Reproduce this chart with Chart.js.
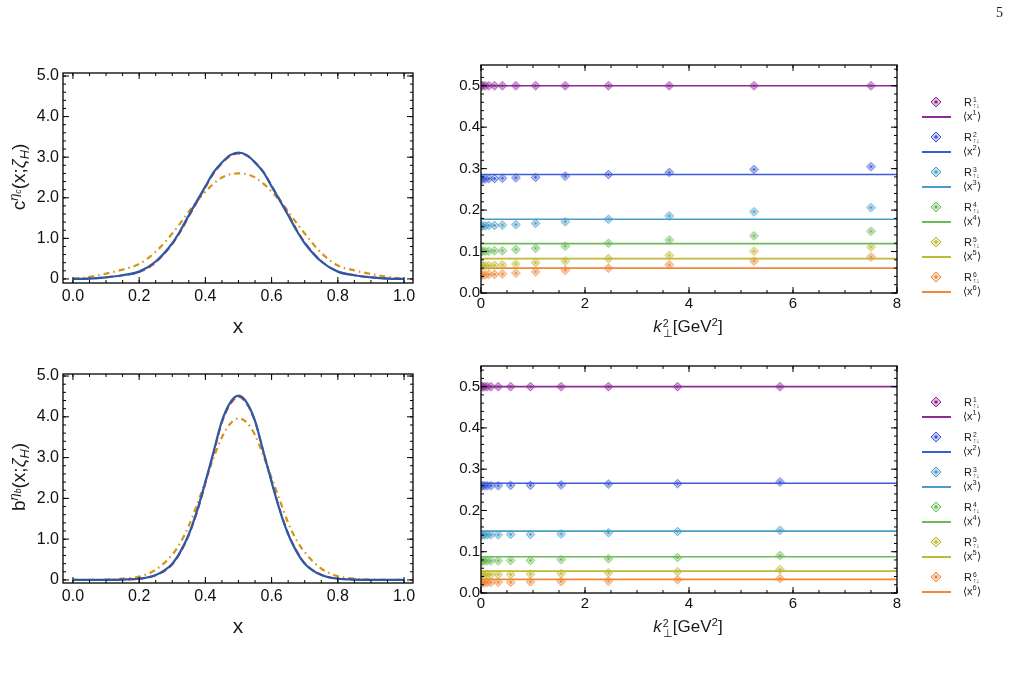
<!DOCTYPE html>
<html>
<head>
<meta charset="utf-8">
<script src="https://cdn.jsdelivr.net/npm/chart.js@4.4.1/dist/chart.umd.min.js"></script>
<style>
  body { margin: 0; background: #fff; }
  #page { position: relative; width: 1013px; height: 676px; overflow: hidden; font-family: "Liberation Sans", Arial, sans-serif; color: #1a1a1a; }
  #page canvas.plot { position: absolute; left: 0; top: 0; }
  .t { position: absolute; white-space: nowrap; line-height: 1; }
  .ytitle { font-size: 19px; transform: translate(-50%, -50%) rotate(-90deg); }
  .xtitle { font-size: 21px; transform: translate(-50%, -50%); }
  .ktitle { font-size: 17px; transform: translate(-50%, -50%); }
  sup, sub { font-size: 0.68em; line-height: 0; }
  .stack { display: inline-flex; flex-direction: column; vertical-align: middle; font-size: 0.62em; line-height: 0.95; margin-left: 1px; }
  .leg { position: absolute; font-size: 11px; line-height: 1; white-space: nowrap; }
  .legline { position: absolute; height: 1.6px; width: 29px; }
  .legicon { position: absolute; }
  .pg { position: absolute; left: 996px; top: 5px; font: 14px "Liberation Serif", serif; }
</style>
</head>
<body>
<div id="page">
  <canvas class="plot" id="cTop" width="1013" height="676"></canvas>
  <canvas class="plot" id="bBot" width="1013" height="676"></canvas>
  <canvas class="plot" id="rTop" width="1013" height="676"></canvas>
  <canvas class="plot" id="rBot" width="1013" height="676"></canvas>

  <div class="pg">5</div>

  <div class="t ytitle" style="left:18px;top:177px">c<sup><i>η</i><sub><i>c</i></sub></sup>(x;<i>ζ</i><sub><i>H</i></sub>)</div>
  <div class="t ytitle" style="left:18px;top:477px">b<sup><i>η</i><sub><i>b</i></sub></sup>(x;<i>ζ</i><sub><i>H</i></sub>)</div>
  <div class="t xtitle" style="left:238px;top:325px">x</div>
  <div class="t xtitle" style="left:238px;top:625px">x</div>
  <div class="t ktitle" style="left:688px;top:328px"><i>k</i><span class="stack"><span>2</span><span>⊥</span></span>[GeV<sup>2</sup>]</div>
  <div class="t ktitle" style="left:688px;top:628px"><i>k</i><span class="stack"><span>2</span><span>⊥</span></span>[GeV<sup>2</sup>]</div>
</div>

<script>
// ---- left panels: distribution amplitudes ----
const xGrid = [0, 0.05, 0.1, 0.15, 0.2, 0.25, 0.3, 0.325, 0.35, 0.375, 0.4, 0.425, 0.45, 0.475, 0.5,
               0.525, 0.55, 0.575, 0.6, 0.625, 0.65, 0.675, 0.7, 0.75, 0.8, 0.85, 0.9, 0.95, 1];

const cBlue = [0, 0.01, 0.04, 0.09, 0.18, 0.43, 0.88, 1.2, 1.57, 1.93, 2.28, 2.63, 2.87, 3.05, 3.11,
               3.05, 2.87, 2.63, 2.28, 1.93, 1.57, 1.2, 0.88, 0.43, 0.18, 0.09, 0.04, 0.01, 0];
const cRed  = [0, 0.01, 0.04, 0.09, 0.17, 0.41, 0.86, 1.17, 1.54, 1.9, 2.26, 2.6, 2.85, 3.03, 3.09,
               3.04, 2.87, 2.64, 2.3, 1.95, 1.6, 1.22, 0.9, 0.44, 0.18, 0.09, 0.04, 0.01, 0];
const cGold = [0, 0.05, 0.13, 0.23, 0.37, 0.67, 1.12, 1.38, 1.66, 1.92, 2.15, 2.35, 2.5, 2.58, 2.6,
               2.58, 2.5, 2.35, 2.15, 1.92, 1.66, 1.38, 1.12, 0.64, 0.33, 0.21, 0.12, 0.05, 0];

const bBlue = [0, 0, 0, 0.01, 0.03, 0.12, 0.4, 0.7, 1.12, 1.7, 2.4, 3.15, 3.9, 4.35, 4.52,
               4.35, 3.9, 3.15, 2.4, 1.7, 1.12, 0.7, 0.4, 0.12, 0.03, 0.01, 0, 0, 0];
const bRed  = [0, 0, 0, 0.01, 0.03, 0.11, 0.38, 0.68, 1.1, 1.67, 2.37, 3.12, 3.86, 4.31, 4.49,
               4.32, 3.88, 3.15, 2.42, 1.72, 1.14, 0.72, 0.41, 0.13, 0.03, 0.01, 0, 0, 0];
const bGold = [0, 0, 0.01, 0.03, 0.08, 0.25, 0.62, 0.92, 1.33, 1.85, 2.42, 3.0, 3.5, 3.83, 3.96,
               3.86, 3.55, 3.05, 2.5, 1.95, 1.4, 0.98, 0.68, 0.28, 0.09, 0.03, 0.01, 0, 0];

const xTicksLeft = [0, 0.2, 0.4, 0.6, 0.8, 1.0];
const yTicksLeft = [0, 1, 2, 3, 4, 5];

// ---- right panels: moments vs k_perp^2 ----
const kTicks = [0, 2, 4, 6, 8];
const rTicks = [0, 0.1, 0.2, 0.3, 0.4, 0.5];
const kRange = [0, 8];

const kTop = [0.005, 0.03, 0.08, 0.15, 0.26, 0.41, 0.67, 1.05, 1.62, 2.45, 3.62, 5.25, 7.5];
const r1Top = [0.5, 0.5, 0.5, 0.5, 0.5, 0.5, 0.5, 0.5, 0.5, 0.5, 0.5, 0.5, 0.5];
const r2Top = [0.274, 0.275, 0.275, 0.276, 0.276, 0.277, 0.278, 0.279, 0.282, 0.286, 0.291, 0.298, 0.305];
const r3Top = [0.161, 0.162, 0.162, 0.163, 0.163, 0.164, 0.165, 0.168, 0.172, 0.178, 0.186, 0.196, 0.206];
const r4Top = [0.100, 0.101, 0.101, 0.101, 0.102, 0.102, 0.105, 0.108, 0.113, 0.120, 0.128, 0.138, 0.149];
const r5Top = [0.065, 0.066, 0.066, 0.066, 0.067, 0.068, 0.070, 0.073, 0.077, 0.083, 0.091, 0.101, 0.111];
const r6Top = [0.043, 0.044, 0.044, 0.045, 0.045, 0.046, 0.048, 0.051, 0.055, 0.060, 0.068, 0.077, 0.087];
const momTop = [0.5, 0.286, 0.178, 0.119, 0.083, 0.060];

const kBot = [0.005, 0.03, 0.07, 0.12, 0.19, 0.33, 0.57, 0.95, 1.54, 2.45, 3.78, 5.75];
const r1Bot = [0.5, 0.5, 0.5, 0.5, 0.5, 0.5, 0.5, 0.5, 0.5, 0.5, 0.5, 0.5];
const r2Bot = [0.259, 0.260, 0.260, 0.260, 0.260, 0.260, 0.261, 0.261, 0.262, 0.264, 0.265, 0.269];
const r3Bot = [0.140, 0.141, 0.141, 0.141, 0.141, 0.141, 0.142, 0.142, 0.143, 0.146, 0.149, 0.152];
const r4Bot = [0.077, 0.078, 0.078, 0.078, 0.078, 0.078, 0.079, 0.079, 0.081, 0.083, 0.086, 0.091];
const r5Bot = [0.044, 0.044, 0.044, 0.045, 0.045, 0.045, 0.045, 0.046, 0.047, 0.049, 0.052, 0.057];
const r6Bot = [0.025, 0.025, 0.025, 0.026, 0.026, 0.026, 0.026, 0.027, 0.028, 0.029, 0.032, 0.035];
const momBot = [0.5, 0.266, 0.150, 0.088, 0.053, 0.033];

const seriesColors = ['#8e2b97', '#3d5bd6', '#4a9dc6', '#6dba59', '#bfb935', '#ee883a'];

const W = 1013, H = 676;
Chart.defaults.font.family = '"Liberation Sans", Arial, sans-serif';
Chart.defaults.color = '#111';

// frame with inward ticks (Mathematica style)
const framePlugin = {
  id: 'frame',
  afterDatasetsDraw(chart, args, opts) {
    const { ctx, chartArea: a, scales } = chart;
    ctx.save();
    ctx.strokeStyle = '#000';
    ctx.lineWidth = 1;
    const seg = (x1, y1, x2, y2) => { ctx.beginPath(); ctx.moveTo(x1, y1); ctx.lineTo(x2, y2); ctx.stroke(); };
    const mark = (sc, v, len) => {
      const p = sc.getPixelForValue(v);
      if (sc.isHorizontal()) { seg(p, a.bottom, p, a.bottom - len); seg(p, a.top, p, a.top + len); }
      else { seg(a.left, p, a.left + len, p); seg(a.right, p, a.right - len, p); }
    };
    [['x', opts.xMinor], ['y', opts.yMinor]].forEach(([id, step]) => {
      const sc = scales[id];
      sc.ticks.forEach(t => mark(sc, t.value, 6));
      for (let v = Math.ceil(sc.min / step) * step; v <= sc.max; v += step) mark(sc, v, 3);
    });
    ctx.lineWidth = 1.3;
    ctx.strokeRect(a.left, a.top, a.right - a.left, a.bottom - a.top);
    ctx.restore();
  }
};

function panel(id, area, cfg) {
  const yW = 60, xH = 40;
  return new Chart(document.getElementById(id), {
    type: 'scatter',
    data: { datasets: cfg.datasets },
    options: {
      responsive: false,
      animation: false,
      events: [],
      layout: { padding: { left: area.l - yW, top: area.t, right: W - area.r, bottom: H - area.b - xH } },
      plugins: { legend: { display: false }, tooltip: { enabled: false }, frame: cfg.minor },
      scales: {
        x: {
          type: 'linear', min: cfg.x.min, max: cfg.x.max,
          grid: { display: false, drawTicks: false }, border: { display: false },
          afterBuildTicks: s => { s.ticks = cfg.x.ticks.map(v => ({ value: v })); },
          afterFit: s => { s.height = xH; },
          ticks: { padding: cfg.x.pad, font: { size: cfg.fs }, maxRotation: 0, autoSkip: false, callback: cfg.x.fmt }
        },
        y: {
          type: 'linear', min: cfg.y.min, max: cfg.y.max,
          grid: { display: false, drawTicks: false }, border: { display: false },
          afterBuildTicks: s => { s.ticks = cfg.y.ticks.map(v => ({ value: v })); },
          afterFit: s => { s.width = yW; },
          ticks: { padding: cfg.y.pad, font: { size: cfg.fs }, autoSkip: false, callback: cfg.y.fmt }
        }
      }
    },
    plugins: [framePlugin]
  });
}

function curveSets(blue, red, gold) {
  const pts = ys => xGrid.map((x, i) => ({ x, y: ys[i] }));
  const base = { showLine: true, pointRadius: 0, cubicInterpolationMode: 'monotone', fill: false };
  return [
    Object.assign({ data: pts(blue), borderColor: '#2a5ba8', borderWidth: 2.2 }, base),
    Object.assign({ data: pts(red), borderColor: '#e2332b', borderWidth: 2, borderDash: [7, 4] }, base),
    Object.assign({ data: pts(gold), borderColor: '#d39418', borderWidth: 2.2, borderDash: [6, 4, 1.5, 4] }, base)
  ];
}

// small diamond-in-diamond icon used for points
function diamondIcon(color, r) {
  const s = Math.ceil(2 * r + 2);
  const c = document.createElement('canvas');
  c.width = s; c.height = s;
  const g = c.getContext('2d');
  const m = s / 2;
  const dia = (h) => { g.beginPath(); g.moveTo(m, m - h); g.lineTo(m + h, m); g.lineTo(m, m + h); g.lineTo(m - h, m); g.closePath(); };
  dia(r);
  g.globalAlpha = 0.3; g.fillStyle = color; g.fill();
  g.globalAlpha = 1; g.strokeStyle = color; g.lineWidth = 1; g.stroke();
  dia(r * 0.42); g.fillStyle = color; g.fill();
  return c;
}

function momentSets(ks, rows, moms) {
  const sets = [];
  rows.forEach((row, i) => {
    sets.push({
      data: ks.map((k, j) => ({ x: k, y: row[j] })),
      pointStyle: diamondIcon(seriesColors[i], 4.2), showLine: false
    });
    sets.push({
      data: [{ x: kRange[0], y: moms[i] }, { x: kRange[1], y: moms[i] }],
      showLine: true, pointRadius: 0, borderColor: seriesColors[i], borderWidth: 1.6
    });
  });
  return sets;
}

const leftFmtX = v => v.toFixed(1);
const leftFmtY = v => v === 0 ? '0' : v.toFixed(1);

panel('cTop', { l: 63, t: 73, r: 413, b: 283 }, {
  fs: 16, minor: { xMinor: 0.05, yMinor: 0.2 },
  x: { min: -0.03, max: 1.027, ticks: xTicksLeft, pad: 4, fmt: leftFmtX },
  y: { min: -0.1, max: 5.074, ticks: yTicksLeft, pad: 4, fmt: leftFmtY },
  datasets: curveSets(cBlue, cRed, cGold)
});

panel('bBot', { l: 63, t: 374, r: 413, b: 583 }, {
  fs: 16, minor: { xMinor: 0.05, yMinor: 0.2 },
  x: { min: -0.03, max: 1.027, ticks: xTicksLeft, pad: 4, fmt: leftFmtX },
  y: { min: -0.075, max: 5.05, ticks: yTicksLeft, pad: 4, fmt: leftFmtY },
  datasets: curveSets(bBlue, bRed, bGold)
});

panel('rTop', { l: 481, t: 65, r: 897, b: 293 }, {
  fs: 15, minor: { xMinor: 0.5, yMinor: 0.02 },
  x: { min: kRange[0], max: kRange[1], ticks: kTicks, pad: 2, fmt: v => String(v) },
  y: { min: 0, max: 0.55, ticks: rTicks, pad: 1, fmt: v => v.toFixed(1) },
  datasets: momentSets(kTop, [r1Top, r2Top, r3Top, r4Top, r5Top, r6Top], momTop)
});

panel('rBot', { l: 481, t: 366, r: 897, b: 593 }, {
  fs: 15, minor: { xMinor: 0.5, yMinor: 0.02 },
  x: { min: kRange[0], max: kRange[1], ticks: kTicks, pad: 2, fmt: v => String(v) },
  y: { min: 0, max: 0.55, ticks: rTicks, pad: 1, fmt: v => v.toFixed(1) },
  datasets: momentSets(kBot, [r1Bot, r2Bot, r3Bot, r4Bot, r5Bot, r6Bot], momBot)
});

// legends
const page = document.getElementById('page');
[102, 402].forEach(top0 => {
  seriesColors.forEach((col, i) => {
    const yc = top0 + 35 * i;
    const icon = diamondIcon(col, 5);
    icon.className = 'legicon';
    icon.style.left = (936 - icon.width / 2) + 'px';
    icon.style.top = (yc - icon.height / 2) + 'px';
    page.appendChild(icon);

    const ln = document.createElement('div');
    ln.className = 'legline';
    ln.style.left = '922px';
    ln.style.top = (yc + 14.2) + 'px';
    ln.style.background = col;
    page.appendChild(ln);

    const r = document.createElement('div');
    r.className = 'leg';
    r.style.left = '964px';
    r.style.top = (yc - 5) + 'px';
    r.innerHTML = 'R<span class="stack"><span>' + (i + 1) + '</span><span>↑↓</span></span>';
    page.appendChild(r);

    const m = document.createElement('div');
    m.className = 'leg';
    m.style.left = '963px';
    m.style.top = (yc + 9) + 'px';
    m.innerHTML = '⟨x<sup>' + (i + 1) + '</sup>⟩';
    page.appendChild(m);
  });
});
</script>
</body>
</html>
